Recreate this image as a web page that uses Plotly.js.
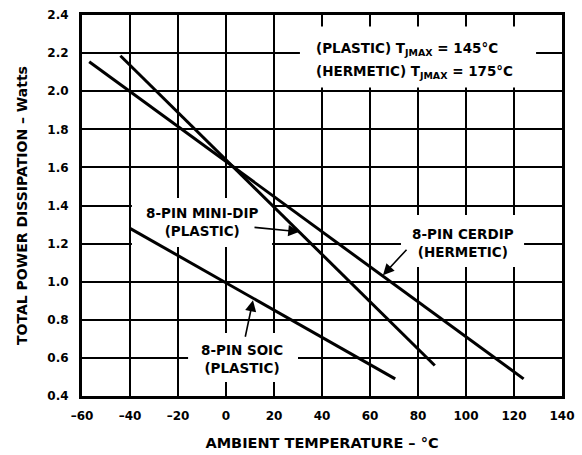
<!DOCTYPE html>
<html>
<head>
<meta charset="utf-8">
<script src="https://cdn.plot.ly/plotly-3.0.1.min.js"></script>
<style>html,body{margin:0;padding:0;background:#fff;}</style>
</head>
<body>
<div id="chart" style="width:582px;height:455px;"></div>
<script>
// Data
const cerdipTemp = [-57, 124];
const cerdipPower = [2.155, 0.49];
const miniDipTemp = [-44, 87];
const miniDipPower = [2.186, 0.56];
const soicTemp = [-40, 70.5];
const soicPower = [1.28, 0.49];

const xTickVals = [-60, -40, -20, 0, 20, 40, 60, 80, 100, 120, 140];
const xTickText = ['–60', '–40', '–20', '0', '20', '40', '60', '80', '100', '120', '140'];
const yTickVals = [0.4, 0.6, 0.8, 1.0, 1.2, 1.4, 1.6, 1.8, 2.0, 2.2, 2.4];
const yTickText = ['0.4', '0.6', '0.8', '1.0', '1.2', '1.4', '1.6', '1.8', '2.0', '2.2', '2.4'];

const FONT = 'DejaVu Sans, sans-serif';
const lineStyle = {color: '#000', width: 3};

const traces = [
  {x: cerdipTemp, y: cerdipPower, mode: 'lines', line: lineStyle, name: '8-PIN CERDIP', hoverinfo: 'none'},
  {x: miniDipTemp, y: miniDipPower, mode: 'lines', line: lineStyle, name: '8-PIN MINI-DIP', hoverinfo: 'none'},
  {x: soicTemp, y: soicPower, mode: 'lines', line: lineStyle, name: '8-PIN SOIC', hoverinfo: 'none'}
];

const labelFont = {family: FONT, size: 13.5, color: '#000', weight: 'bold'};

function label(x, y, text, xanchor) {
  return {x: x, y: y, xref: 'x', yref: 'y', text: text, showarrow: false,
    align: xanchor === 'left' ? 'left' : 'center',
    font: labelFont, xanchor: xanchor || 'center', yanchor: 'middle'};
}
function arrow(ax, ay, x, y) {
  return {x: x, y: y, ax: ax, ay: ay, xref: 'x', yref: 'y', axref: 'x', ayref: 'y',
    text: '', showarrow: true, arrowhead: 2, arrowsize: 1.4, arrowwidth: 1.6, arrowcolor: '#000', standoff: 0};
}
// white gaps in the grid behind each label
function gap(x0, x1, y0, y1) {
  return {type: 'rect', xref: 'x', yref: 'y', x0: x0, x1: x1, y0: y0, y1: y1,
    fillcolor: '#fff', line: {width: 0}, layer: 'between'};
}

const shapes = [
  gap(30.8, 129.2, 2.02, 2.34),
  gap(-39.2, 19.2, 1.182, 1.439),
  gap(-15.8, 30, 0.473, 0.731),
  gap(72.9, 124.2, 1.077, 1.35)
];

const annotations = [
  label(36.5, 2.22, '(PLASTIC) T<sub>JMAX</sub> = 145°C', 'left'),
  label(36.5, 2.103, '(HERMETIC) T<sub>JMAX</sub> = 175°C', 'left'),
  label(-9.6, 1.311, '8-PIN MINI-DIP<br>(PLASTIC)'),
  label(6.5, 0.596, '8-PIN SOIC<br>(PLASTIC)'),
  label(98.75, 1.202, '8-PIN CERDIP<br>(HERMETIC)'),
  arrow(11.25, 1.286, 30.6, 1.262),
  arrow(7.9, 0.703, 11.25, 0.903),
  arrow(75.8, 1.176, 65.4, 1.034)
];

const axisCommon = {
  showgrid: true, gridcolor: '#000', gridwidth: 2,
  showline: true, linecolor: '#000', linewidth: 3, mirror: true,
  zeroline: false, ticks: '', tickfont: {family: FONT, size: 12, color: '#000', weight: 'bold'},
  automargin: false
};

const layout = {
  width: 582, height: 455,
  margin: {l: 82, r: 20, t: 15, b: 59},
  paper_bgcolor: '#fff', plot_bgcolor: '#fff',
  showlegend: false,
  xaxis: Object.assign({}, axisCommon, {
    range: [-60, 140], tickmode: 'array', tickvals: xTickVals, ticktext: xTickText,
    ticklabelstandoff: 7,
    title: {text: 'AMBIENT TEMPERATURE – °C', font: {family: FONT, size: 14.5, color: '#000', weight: 'bold'}, standoff: 16}
  }),
  yaxis: Object.assign({}, axisCommon, {
    range: [0.4, 2.4], tickmode: 'array', tickvals: yTickVals, ticktext: yTickText,
    ticklabelstandoff: 8,
    title: {text: 'TOTAL POWER DISSIPATION – Watts', font: {family: FONT, size: 14, color: '#000', weight: 'bold'}, standoff: 17}
  }),
  shapes: shapes,
  annotations: annotations
};

Plotly.newPlot('chart', traces, layout, {staticPlot: true, displayModeBar: false});
</script>
</body>
</html>
